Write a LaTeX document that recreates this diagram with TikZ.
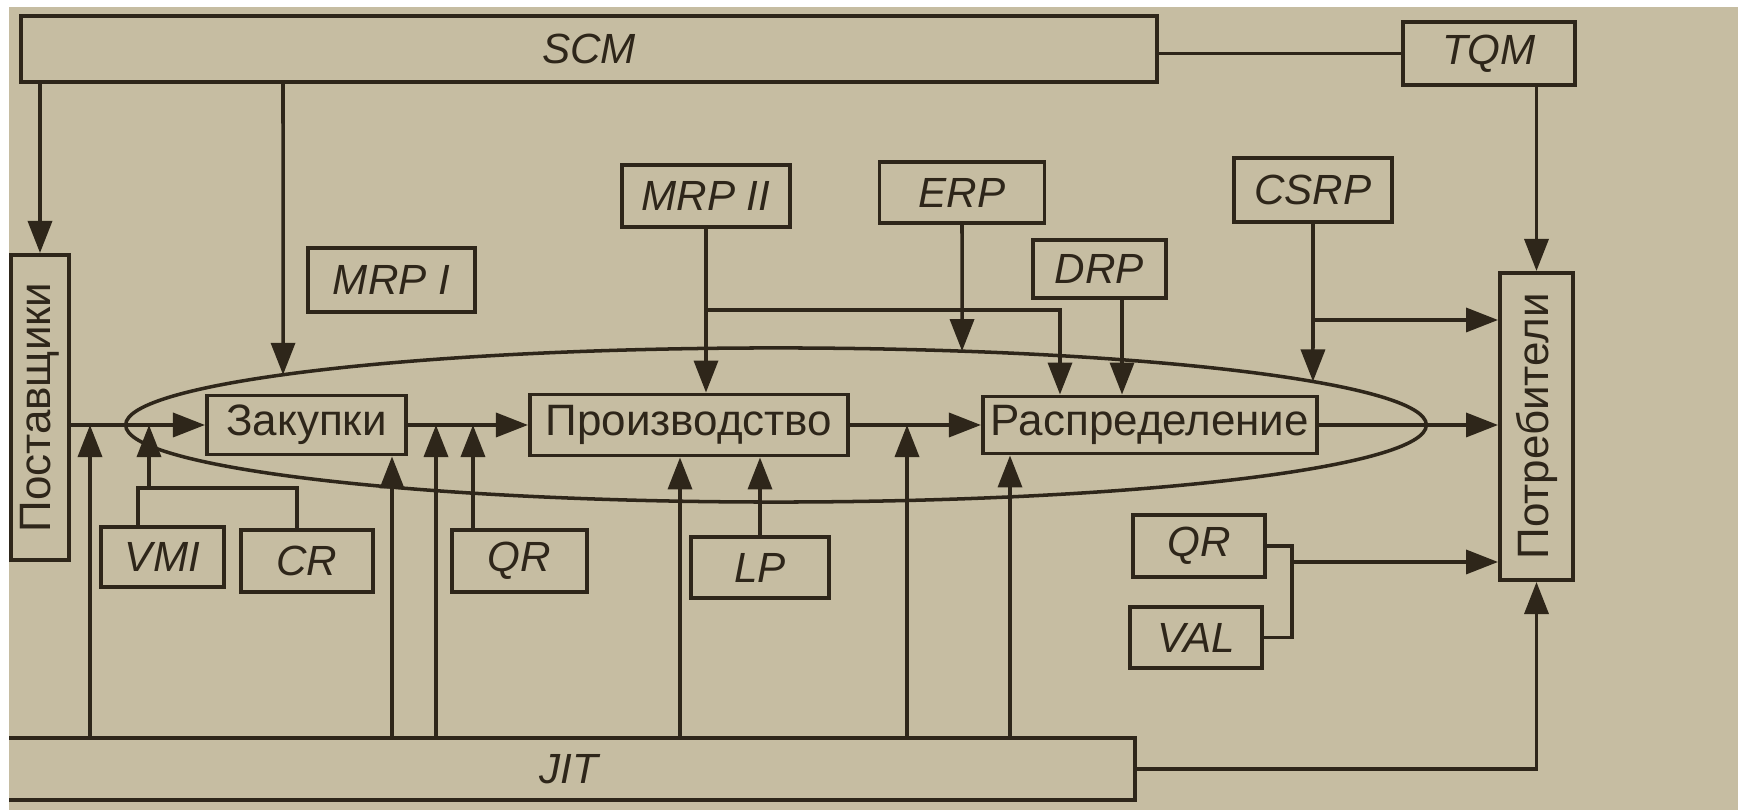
\documentclass[tikz,border=0pt]{standalone}
\usepackage{fontspec}
\setmainfont{Liberation Sans}
\usetikzlibrary{arrows.meta,intersections,calc}
\definecolor{paper}{RGB}{198,189,162}
\definecolor{ink}{RGB}{46,38,26}
\begin{document}
\begin{tikzpicture}[x=0.01cm,y=-0.01cm,
  box/.style={draw=ink, line width=1.1pt, inner sep=0pt, text=ink, font=\fontsize{12.5}{14}\selectfont},
  abox/.style={box, font=\fontsize{12}{14}\selectfont\itshape},
  conn/.style={draw=ink, line width=1pt},
  arr/.style={conn, -{Triangle[length=0.32cm,width=0.24cm]}},
]
\useasboundingbox (0,0) rectangle (1738,810);
\fill[white] (0,0) rectangle (1738,810);
\fill[paper] (9,7) rectangle (1738,810);
\clip (9,7) rectangle (1738,810);

% boxes
\node[abox, minimum width=11.36cm, minimum height=0.66cm] (scm) at (589,49) {SCM};
\node[abox, minimum width=1.72cm, minimum height=0.63cm] (tqm) at (1489,53.5) {TQM};
\node[abox, minimum width=1.67cm, minimum height=0.64cm] (mrp1) at (391.5,280) {MRP I};
\node[abox, minimum width=1.68cm, minimum height=0.62cm] (mrp2) at (706,196) {MRP II};
\node[abox, minimum width=1.65cm, minimum height=0.61cm] (erp) at (962,192.5) {ERP};
\node[abox, minimum width=1.33cm, minimum height=0.58cm] (drp) at (1099.5,269) {DRP};
\node[abox, minimum width=1.58cm, minimum height=0.64cm] (csrp) at (1313,190) {CSRP};
\node[box, minimum width=0.58cm, minimum height=3.05cm] (post) at (40,407.5) {\rotatebox{90}{Поставщики}};
\node[box, minimum width=0.73cm, minimum height=3.07cm] (potr) at (1536.5,426.5) {\rotatebox{90}{Потребители}};
\node[box, minimum width=1.99cm, minimum height=0.59cm] (zak) at (306.5,425) {Закупки};
\node[box, minimum width=3.18cm, minimum height=0.61cm] (proiz) at (689,425) {Производство};
\node[box, minimum width=3.34cm, minimum height=0.57cm] (rasp) at (1150,425) {Распределение};
\node[abox, minimum width=1.23cm, minimum height=0.60cm] (vmi) at (162.5,557) {VMI};
\node[abox, minimum width=1.32cm, minimum height=0.62cm] (cr) at (307,561) {CR};
\node[abox, minimum width=1.35cm, minimum height=0.62cm] (qra) at (519.5,561) {QR};
\node[abox, minimum width=1.38cm, minimum height=0.61cm] (lp) at (760,567.5) {LP};
\node[abox, minimum width=1.32cm, minimum height=0.62cm] (qrb) at (1199,546) {QR};
\node[abox, minimum width=1.32cm, minimum height=0.61cm] (val) at (1196,637.5) {VAL};
\node[abox, minimum width=11.63cm, minimum height=0.62cm] (jit) at (553.5,769) {\hspace*{0.3cm}JIT};

% ellipse of the chain
\coordinate (cyc) at (776,425);
\draw[conn, name path=ell] (cyc) ellipse [x radius=6.5cm, y radius=0.77cm];

% helper x positions
\coordinate (xs) at (283,0);
\coordinate (xj1) at (90,0);
\coordinate (xj2) at (392,0);
\coordinate (xj3) at (436,0);
\coordinate (xj4) at (680,0);
\coordinate (xj5) at (907,0);
\coordinate (xj6) at (1010,0);
\coordinate (br) at (149,488);
\coordinate (br2) at (1060,310);
\coordinate (br3) at (1313,320);
\coordinate (br4) at (1292,562);

\path[name path=v1] (xs |- scm.south) -- (xs |- cyc);
\path[name intersections={of=v1 and ell, by=e1}];
\path[name path=v2] (erp.south) -- (erp.south |- cyc);
\path[name intersections={of=v2 and ell, by=e2}];
\path[name path=v3] (csrp.south) -- (csrp.south |- cyc);
\path[name intersections={of=v3 and ell, by=e3}];

% SCM and TQM
\draw[arr] (scm.south -| post.north) -- (post.north);
\draw[arr] (scm.south -| xs) -- (e1);
\draw[conn] (scm.east |- tqm.west) -- (tqm.west);
\draw[arr] (tqm.south -| potr.north) -- (potr.north);

% main flow
\draw[arr] (post.east |- zak.west) -- (zak.west);
\draw[arr] (zak.east) -- (proiz.west);
\draw[arr] (proiz.east) -- (rasp.west);
\draw[arr] (rasp.east) -- (rasp.east -| potr.west);

% VMI / CR
\draw[conn] ([xshift=-0.245cm]vmi.north) |- ([xshift=-0.1cm]cr.north |- br) -- ([xshift=-0.1cm]cr.north);
\draw[arr] (br) -- (br |- zak.west);
\draw[arr] ([xshift=-0.465cm]qra.north) -- ([xshift=-0.465cm]qra.north |- zak.east);

% JIT
\draw[arr] (jit.north -| xj1) -- (xj1 |- zak.west);
\draw[arr] (jit.north -| xj2) -- (xj2 |- zak.south);
\draw[arr] (jit.north -| xj3) -- (xj3 |- zak.east);
\draw[arr] (jit.north -| xj4) -- (xj4 |- proiz.south);
\draw[arr] (jit.north -| xj5) -- (xj5 |- proiz.east);
\draw[arr] (jit.north -| xj6) -- (xj6 |- rasp.south);
\draw[arr] (jit.east) -| (potr.south);

% top systems
\draw[arr] (mrp2.south) -- (mrp2.south |- proiz.north);
\draw[arr] (mrp2.south |- br2) -- (br2) -- (br2 |- rasp.north);
\draw[arr] (erp.south) -- (e2);
\draw[arr] ([xshift=0.225cm]drp.south) -- ([xshift=0.225cm]drp.south |- rasp.north);
\draw[arr] (csrp.south) -- (e3);
\draw[arr] (br3) -- (br3 -| potr.west);
\draw[arr] (lp.north) -- (lp.north |- proiz.south);

% QR / VAL
\draw[conn] (qrb.east) -| (br4 |- val.east) -- (val.east);
\draw[arr] (br4) -- (br4 -| potr.west);
\end{tikzpicture}
\end{document}
